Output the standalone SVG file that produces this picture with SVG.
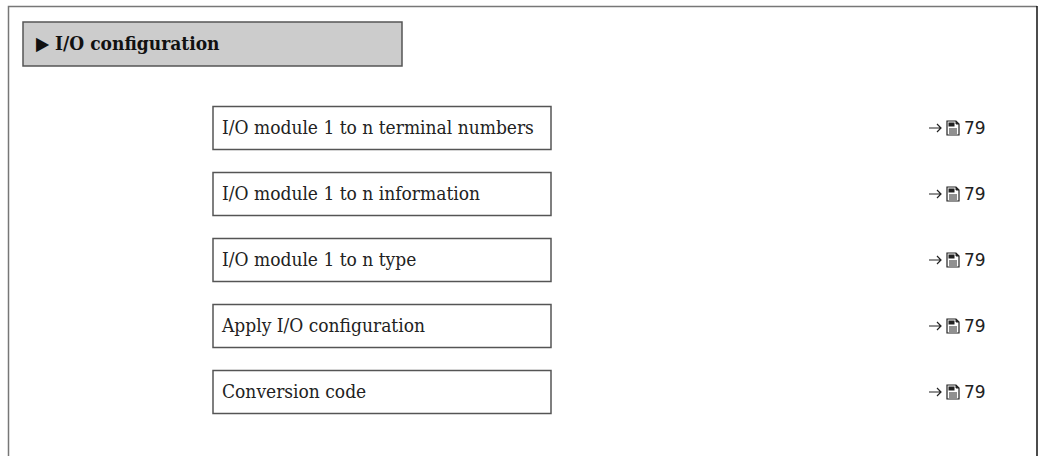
<svg xmlns="http://www.w3.org/2000/svg" width="1043" height="456" viewBox="0 0 1043 456">
<style>
.frame{fill:none;stroke-width:1.5}
.box{fill:#ffffff;stroke:#555555;stroke-width:1.5}
.hdr{fill:#cccccc;stroke:#555555;stroke-width:1.5}
.lbl{font-family:"DejaVu Serif Condensed","DejaVu Serif",serif;font-size:19px;fill:#222222}
.hlbl{font-family:"DejaVu Serif Condensed","DejaVu Serif",serif;font-size:19px;font-weight:bold;fill:#111111}
.ref{font-family:"DejaVu Sans","Liberation Sans",sans-serif;font-size:17px;fill:#222222}
.arr{fill:none;stroke:#222222;stroke-width:1.2}
</style>
<defs>
<g id="doc">
<path d="M0,0 H9 L12,3 V14 H0 Z" fill="#ffffff" stroke="#222222" stroke-width="1.2"/>
<path d="M9,0 V3 H12" fill="#222222" stroke="#222222" stroke-width="1"/>
<rect x="1.5" y="1.5" width="6" height="4" fill="#222222"/>
<path d="M2,8 H10 M2,10 H10 M2,12 H10" stroke="#222222" stroke-width="1"/>
</g>
<path id="arrow" d="M0,0 H12 M8,-4 L12,0 L8,4" class="arr"/>
</defs>
<g id="frame">
<path d="M8.5,456 V6.5 H1037" class="frame" stroke="#777777"/>
<path d="M1037,6 V456" class="frame" stroke="#111111"/>
</g>
<g id="header">
<rect x="23" y="22" width="379" height="44" class="hdr"/>
<text x="36" y="50" class="hlbl">▶ I/O configuration</text>
</g>
<g id="connectors"></g>
<g id="n1">
<rect x="213" y="106.5" width="338" height="43" class="box"/>
<text x="222" y="134" class="lbl">I/O module 1 to n terminal numbers</text>
<use href="#arrow" x="929" y="128"/>
<use href="#doc" x="947" y="121"/>
<text x="964" y="134" class="ref">79</text>
</g>
<g id="n2">
<rect x="213" y="172.5" width="338" height="43" class="box"/>
<text x="222" y="200" class="lbl">I/O module 1 to n information</text>
<use href="#arrow" x="929" y="194"/>
<use href="#doc" x="947" y="187"/>
<text x="964" y="200" class="ref">79</text>
</g>
<g id="n3">
<rect x="213" y="238.5" width="338" height="43" class="box"/>
<text x="222" y="266" class="lbl">I/O module 1 to n type</text>
<use href="#arrow" x="929" y="260"/>
<use href="#doc" x="947" y="253"/>
<text x="964" y="266" class="ref">79</text>
</g>
<g id="n4">
<rect x="213" y="304.5" width="338" height="43" class="box"/>
<text x="222" y="332" class="lbl">Apply I/O configuration</text>
<use href="#arrow" x="929" y="326"/>
<use href="#doc" x="947" y="319"/>
<text x="964" y="332" class="ref">79</text>
</g>
<g id="n5">
<rect x="213" y="370.5" width="338" height="43" class="box"/>
<text x="222" y="398" class="lbl">Conversion code</text>
<use href="#arrow" x="929" y="392"/>
<use href="#doc" x="947" y="385"/>
<text x="964" y="398" class="ref">79</text>
</g>
</svg>
